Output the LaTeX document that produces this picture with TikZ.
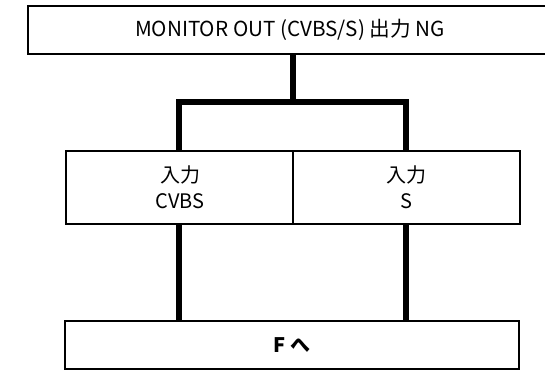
\documentclass[tikz,border=0pt]{standalone}
\usepackage{fontspec}
\setmainfont{Noto Sans CJK JP}
\begin{document}
\begin{tikzpicture}[x=0.75pt,y=-0.75pt,
  box/.style={draw,line width=1.1pt,inner sep=0pt},
  midbox/.style={draw,line width=1.6pt,inner sep=0pt},
  conn/.style={line width=3.8pt},
  lbl/.style={align=center}]
\useasboundingbox (0,0) rectangle (545,371);
\draw[box] (28,6) rectangle (548,54);
\node[lbl,font=\fontsize{15.5}{18}\selectfont] (top) at (290,30) {MONITOR OUT (CVBS/S) 出力 NG};
\coordinate (topb) at (293,54);
\draw[midbox] (66,151) rectangle (520,224);
\draw[line width=1.3pt] (293,151) -- (293,224);
\node[lbl,font=\fontsize{15}{19.5}\selectfont] (cvbs) at (180,187) {入力\\CVBS};
\node[lbl,font=\fontsize{15}{19.5}\selectfont] (s) at (406,187) {入力\\S};
\draw[box] (65,321) rectangle (519,369);
\node[lbl,font=\fontsize{15}{18}\selectfont\bfseries] (f) at (292,345) {F へ};
\coordinate (jn) at (293,102);
\coordinate (jl) at (179,102);
\coordinate (jr) at (406,102);
\draw[conn] (topb) -- (jn);
\draw[conn] (179,151) -- (jl) -- (jr) -- (406,151);
\draw[conn] (179,224) -- (179,321);
\draw[conn] (406,224) -- (406,321);
\end{tikzpicture}
\end{document}
